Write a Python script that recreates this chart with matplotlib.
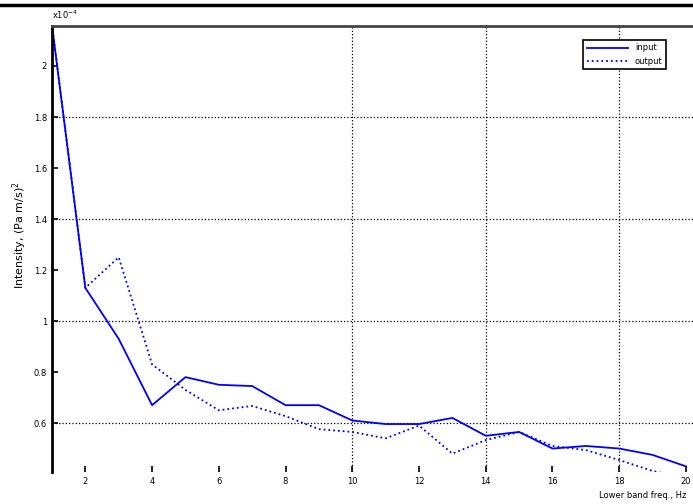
import matplotlib.pyplot as plt
from matplotlib.lines import Line2D

# band index along the x axis
band = list(range(1, 21))

# values (x10^-4)
series_in = [2.16, 1.13, 0.93, 0.67, 0.78, 0.75, 0.745, 0.67, 0.67, 0.61,
             0.596, 0.596, 0.62, 0.55, 0.565, 0.50, 0.51, 0.50, 0.475, 0.43]
series_out = [2.16, 1.13, 1.25, 0.83, 0.73, 0.65, 0.667, 0.627, 0.576, 0.565,
              0.54, 0.59, 0.48, 0.533, 0.565, 0.51, 0.494, 0.455, 0.412, 0.384]

x_ticks = [2, 4, 6, 8, 10, 12, 14, 16, 18, 20]
y_ticks = [0.6, 0.8, 1.0, 1.2, 1.4, 1.6, 1.8, 2.0]
y_tick_labels = ['0.6', '0.8', '1', '1.2', '1.4', '1.6', '1.8', '2']
x_grid = [10, 14, 18]
y_grid = [0.6, 1.0, 1.4, 1.8]

fig = plt.figure(figsize=(6.93, 5.04), dpi=100)
# axes runs past the right edge, like the cropped original
ax = fig.add_axes([0.075, 0.0635, 0.963, 0.885])

ax.plot(band, series_in, color='#0000ff', linestyle='-', linewidth=1.3, label='input')
ax.plot(band, series_out, color='#0000ff', linestyle=':', linewidth=1.3, label='output')

ax.set_xlim(1, 21)
ax.set_ylim(0.408, 2.157)

# dotted grid, only on some of the ticks
for gx in x_grid:
    ax.axvline(gx, color='black', linestyle=':', linewidth=0.9, zorder=0)
for gy in y_grid:
    ax.axhline(gy, color='black', linestyle=':', linewidth=0.9, zorder=0)

ax.set_xticks(x_ticks)
ax.set_yticks(y_ticks)
ax.set_yticklabels(y_tick_labels)
ax.tick_params(direction='in', labelsize=6, length=4, width=1.2)

ax.spines['bottom'].set_visible(False)
ax.spines['left'].set_linewidth(2)
ax.spines['top'].set_linewidth(2)
ax.spines['top'].set_color('#444444')

ax.text(0.0, 1.01, r'x10$^{-4}$', transform=ax.transAxes, fontsize=6, va='bottom')

fig.text(0.029, 0.534, 'Intensity, (Pa m/s)$^2$', rotation=90, fontsize=8,
         ha='center', va='center')
fig.text(0.99, 0.012, 'Lower band freq., Hz', fontsize=6, ha='right')

# thick rule along the very top
fig.add_artist(Line2D([0, 1], [0.99, 0.99], color='black', linewidth=2.5))

leg = ax.legend(loc='upper left', bbox_to_anchor=(579 / 693, 1 - 36 / 504),
                bbox_transform=fig.transFigure, fontsize=6, fancybox=False,
                edgecolor='black', framealpha=1, handlelength=5)
leg.get_frame().set_linewidth(1.2)

fig.savefig('out.png', dpi=100)
